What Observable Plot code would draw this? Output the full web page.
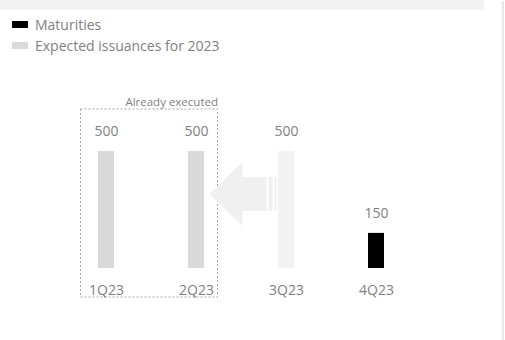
<!DOCTYPE html>
<html><head><meta charset="utf-8">
<script src="https://cdn.jsdelivr.net/npm/d3@7"></script>
<script src="https://cdn.jsdelivr.net/npm/@observablehq/plot@0.6"></script>
<style>
html,body{margin:0;padding:0;background:#fff;}
#wrap{position:relative;width:505px;height:340px;overflow:hidden;font-family:"Open Sans",sans-serif;}
#chart{position:absolute;left:0;top:0;}
#band{position:absolute;left:0;top:0;width:484px;height:10px;background:#f2f2f2;}
#edge{position:absolute;left:502px;top:1px;width:2px;height:339px;background:#e8e8e8;}
#legend{position:absolute;left:12px;top:14px;font-size:14px;color:#7f7f7f;line-height:21px;}
.item{display:flex;align-items:center;height:21px;}
.sw{width:16px;height:7px;margin-right:7px;}
</style></head>
<body>
<div id="wrap">
  <div id="chart"></div>
  <div id="band"></div>
  <div id="edge"></div>
  <div id="legend"></div>
</div>
<script>
// ---- data ----
const quarters = ["1Q23", "2Q23", "3Q23", "4Q23"];
const values = [500, 500, 500, 150];
const kinds = ["executed", "executed", "expected", "maturity"];
const legendLabels = ["Maturities", "Expected issuances for 2023"];
const frameLabel = "Already executed";
const executedQuarters = ["1Q23", "2Q23"];
const arrowFrom = "3Q23", arrowTo = "2Q23";
const arrowLevel = 316;

const kindColors = {executed: "#d9d9d9", expected: "#f2f2f2", maturity: "#000000"};
const legendColors = ["#000000", "#d9d9d9"];

const rows = quarters.map((q, i) => ({q, v: values[i], kind: kinds[i]}));

// legend
const leg = document.getElementById("legend");
legendLabels.forEach((t, i) => {
  const d = document.createElement("div"); d.className = "item";
  const s = document.createElement("span"); s.className = "sw"; s.style.background = legendColors[i];
  const l = document.createElement("span"); l.textContent = t;
  d.append(s, l); leg.append(d);
});

function annotations(index, {x, y}) {
  const bw = x.bandwidth();
  const g = d3.create("svg:g");
  // dashed frame around executed quarters
  const fx1 = x(executedQuarters[0]) - 17.5;
  const fx2 = x(executedQuarters[executedQuarters.length - 1]) + bw + 13.5;
  const fy1 = y(500) - 42, fy2 = y(0) + 29;
  g.append("rect")
    .attr("x", fx1).attr("y", fy1).attr("width", fx2 - fx1).attr("height", fy2 - fy1)
    .attr("fill", "none").attr("stroke", "#a6a6a6").attr("stroke-width", 1)
    .attr("stroke-dasharray", "2,2");
  // arrow
  const a = x(arrowTo) + bw;
  const ym = y(arrowLevel);
  const tip = a + 5.5, hb = a + 38.5, se = a + 62.5;
  const col = "#f0f0f0";
  g.append("path")
    .attr("d", `M${tip},${ym} L${hb},${ym - 32} L${hb},${ym - 17} L${se},${ym - 17} L${se},${ym + 17} L${hb},${ym + 17} L${hb},${ym + 32} Z`)
    .attr("fill", col);
  g.append("rect").attr("x", a + 64.5).attr("y", ym - 17).attr("width", 4).attr("height", 34).attr("fill", col);
  g.append("rect").attr("x", a + 70.5).attr("y", ym - 17).attr("width", 2).attr("height", 34).attr("fill", col);
  return g.node();
}

const frameRows = [{q: executedQuarters[executedQuarters.length - 1], v: 500, label: frameLabel}];

const chart = Plot.plot({
  width: 505,
  height: 340,
  margin: 0,
  style: {fontFamily: "'Open Sans', sans-serif", background: "transparent"},
  x: {type: "band", domain: quarters, range: [96.5, 385.5], paddingInner: 0.824, paddingOuter: 0, axis: null},
  y: {domain: [0, 500], range: [268, 151], axis: null},
  marks: [
    annotations,
    Plot.barY(rows, {x: "q", y: "v", fill: d => kindColors[d.kind]}),
    Plot.text(rows, {x: "q", y: "v", text: d => String(d.v), dy: -20, fill: "#7f7f7f", fontSize: 14}),
    Plot.text(rows, {x: "q", y: 0, text: "q", dy: 22, fill: "#7f7f7f", fontSize: 14}),
    Plot.text(frameRows, {x: "q", y: "v", text: "label", textAnchor: "end", dx: 21.5, dy: -49, fill: "#7f7f7f", fontSize: 11.5})
  ]
});
document.getElementById("chart").append(chart);
</script>
</body></html>
